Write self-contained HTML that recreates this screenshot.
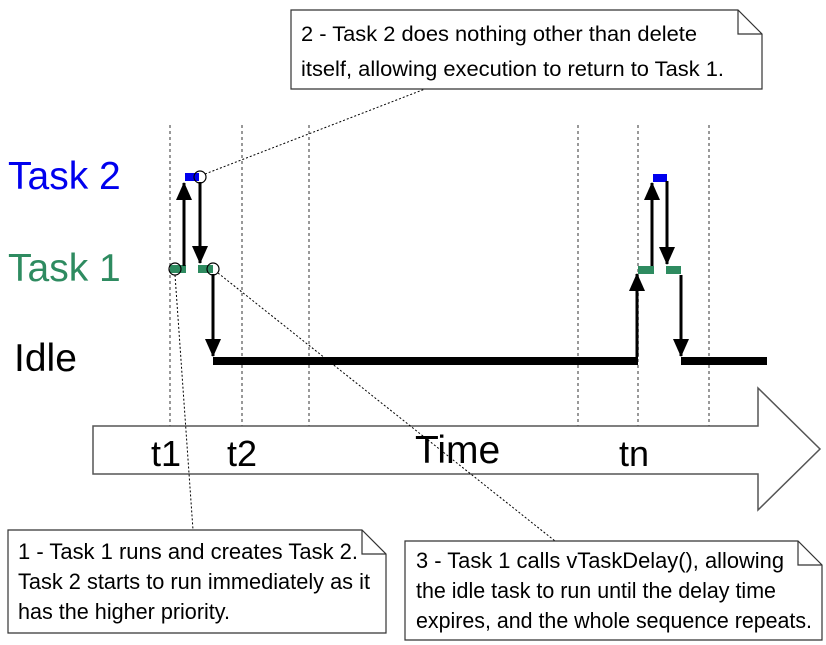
<!DOCTYPE html>
<html><head><meta charset="utf-8"><style>
html,body{margin:0;padding:0;background:#fff;}
svg{display:block;font-family:"Liberation Sans",Arial,sans-serif;}
</style></head><body>
<svg width="826" height="645" viewBox="0 0 826 645" xmlns="http://www.w3.org/2000/svg">
<defs>
<marker id="ah" markerWidth="18" markerHeight="16" refX="17" refY="8" orient="auto" markerUnits="userSpaceOnUse"><path d="M0,0 L18,8 L0,16 Z" fill="#000"/></marker>
</defs>
<g stroke="#999" stroke-width="2" stroke-dasharray="3,3">
<line x1="170" y1="125" x2="170" y2="430"/>
<line x1="242" y1="125" x2="242" y2="430"/>
<line x1="309" y1="125" x2="309" y2="430"/>
<line x1="578" y1="125" x2="578" y2="430"/>
<line x1="638" y1="125" x2="638" y2="430"/>
<line x1="709" y1="125" x2="709" y2="430"/>
</g>
<path d="M93,426 L758,426 L758,388 L820,449 L758,510 L758,474 L93,474 Z" fill="#fff" stroke="#555" stroke-width="1.5"/>
<text x="8" y="189" font-size="39" fill="#0000ee">Task 2</text>
<text x="8" y="281" font-size="39" fill="#2e8b60">Task 1</text>
<text x="14" y="371" font-size="39" fill="#000">Idle</text>
<g font-size="36" fill="#000">
<text x="151" y="466">t1</text>
<text x="227" y="466">t2</text>
<text x="415" y="463" font-size="39">Time</text>
<text x="619" y="466">tn</text>
</g>
<rect x="185" y="173" width="14" height="8" fill="#0000ee"/>
<rect x="170" y="265" width="16" height="8" fill="#2e8b60"/>
<rect x="198" y="265" width="15" height="8" fill="#2e8b60"/>
<rect x="213" y="357" width="425" height="8" fill="#000"/>
<rect x="653" y="174" width="14" height="8" fill="#0000ee"/>
<rect x="638" y="266" width="16" height="8" fill="#2e8b60"/>
<rect x="666" y="266" width="15" height="8" fill="#2e8b60"/>
<rect x="681" y="357" width="86" height="8" fill="#000"/>
<g stroke="#000" stroke-width="3" fill="none" marker-end="url(#ah)">
<line x1="184" y1="266" x2="184" y2="183"/>
<line x1="200" y1="182" x2="200" y2="263"/>
<line x1="213" y1="274" x2="213" y2="356"/>
<line x1="637" y1="357" x2="637" y2="274"/>
<line x1="652" y1="266" x2="652" y2="183"/>
<line x1="667" y1="181" x2="667" y2="264"/>
<line x1="681" y1="275" x2="681" y2="356"/>
</g>
<g fill="none" stroke="#000" stroke-width="1.2">
<circle cx="200" cy="177" r="6"/>
<circle cx="175" cy="269" r="6"/>
<circle cx="213" cy="269" r="6"/>
</g>
<g stroke="#000" stroke-width="1" stroke-dasharray="2,2" fill="none">
<line x1="205" y1="174" x2="425" y2="89"/>
<line x1="175" y1="275" x2="193" y2="530"/>
<line x1="218" y1="273" x2="555" y2="541"/>
</g>
<path d="M291,10 L738,10 L762,34 L762,89 L291,89 Z" fill="#fff" stroke="#333" stroke-width="1.2"/>
<path d="M738,10 L738,34 L762,34" fill="none" stroke="#333" stroke-width="1.2"/>
<text x="301" y="41" font-size="21" textLength="396" lengthAdjust="spacingAndGlyphs">2 - Task 2 does nothing other than delete</text>
<text x="301" y="76" font-size="21" textLength="423" lengthAdjust="spacingAndGlyphs">itself, allowing execution to return to Task 1.</text>
<path d="M8,530 L362,530 L386,554 L386,633 L8,633 Z" fill="#fff" stroke="#333" stroke-width="1.2"/>
<path d="M362,530 L362,554 L386,554" fill="none" stroke="#333" stroke-width="1.2"/>
<text x="18" y="559" font-size="22" textLength="340" lengthAdjust="spacingAndGlyphs">1 - Task 1 runs and creates Task 2.</text>
<text x="18" y="589" font-size="22" textLength="352" lengthAdjust="spacingAndGlyphs">Task 2 starts to run immediately as it</text>
<text x="18" y="619" font-size="22" textLength="212" lengthAdjust="spacingAndGlyphs">has the higher priority.</text>
<path d="M405,541 L798,541 L822,565 L822,640 L405,640 Z" fill="#fff" stroke="#333" stroke-width="1.2"/>
<path d="M798,541 L798,565 L822,565" fill="none" stroke="#333" stroke-width="1.2"/>
<text x="416" y="568" font-size="22" textLength="368" lengthAdjust="spacingAndGlyphs">3 - Task 1 calls vTaskDelay(), allowing</text>
<text x="416" y="598" font-size="22" textLength="360" lengthAdjust="spacingAndGlyphs">the idle task to run until the delay time</text>
<text x="416" y="628" font-size="22" textLength="396" lengthAdjust="spacingAndGlyphs">expires, and the whole sequence repeats.</text>
</svg>
</body></html>
